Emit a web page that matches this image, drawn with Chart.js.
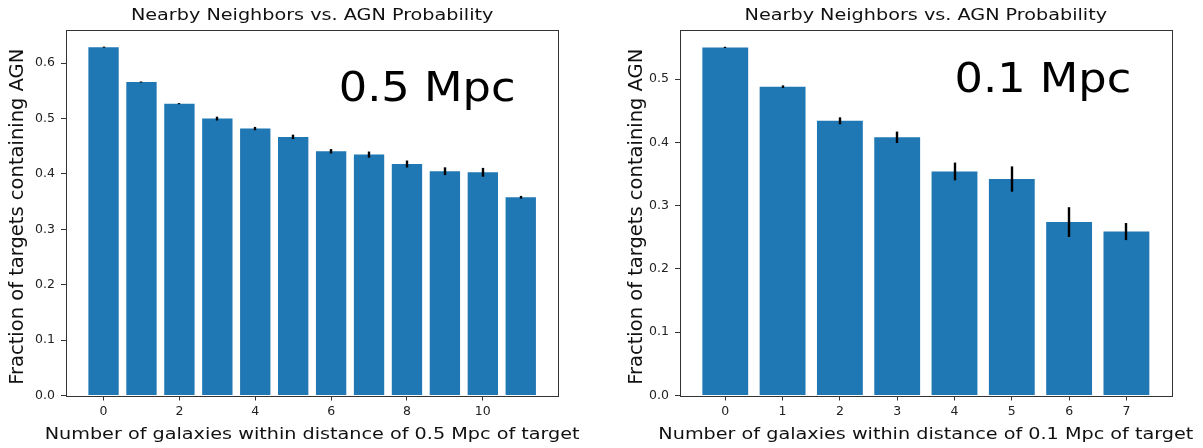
<!DOCTYPE html>
<html>
<head>
<meta charset="utf-8">
<script src="https://cdn.jsdelivr.net/npm/chart.js@4.4.1/dist/chart.umd.min.js"></script>
<style>
  body { margin: 0; background: #fff; }
  canvas { position: absolute; top: 0; }
  #left { left: 0; }
  #right { left: 600px; }
</style>
</head>
<body>
<canvas id="left" width="600" height="448"></canvas>
<canvas id="right" width="603" height="448"></canvas>
<script>
// --- data ---
const titleText = 'Nearby Neighbors vs. AGN Probability';
const yTitle = 'Fraction of targets containing AGN';

// 0.5 Mpc panel
const leftCounts = [0, 1, 2, 3, 4, 5, 6, 7, 8, 9, 10, 11];
const leftFrac = [0.629, 0.566, 0.527, 0.500, 0.482, 0.467, 0.441, 0.435, 0.418, 0.405, 0.403, 0.358];
const leftErr = [0.001, 0.001, 0.001, 0.0035, 0.003, 0.004, 0.004, 0.0055, 0.0063, 0.007, 0.008, 0.0024];
const leftXTicks = [0, 2, 4, 6, 8, 10];
const leftYTicks = [0, 0.1, 0.2, 0.3, 0.4, 0.5, 0.6];
const leftXTitle = 'Number of galaxies within distance of 0.5 Mpc of target';
const leftNote = '0.5 Mpc';

// 0.1 Mpc panel
const rightCounts = [0, 1, 2, 3, 4, 5, 6, 7];
const rightFrac = [0.550, 0.488, 0.434, 0.408, 0.354, 0.342, 0.274, 0.259];
const rightErr = [0.001, 0.002, 0.0055, 0.009, 0.014, 0.020, 0.0235, 0.0135];
const rightXTicks = [0, 1, 2, 3, 4, 5, 6, 7];
const rightYTicks = [0, 0.1, 0.2, 0.3, 0.4, 0.5];
const rightXTitle = 'Number of galaxies within distance of 0.1 Mpc of target';
const rightNote = '0.1 Mpc';

const FONT = "'DejaVu Sans', sans-serif";
const BAR = '#1f77b4';
const AXIS = '#333333';

// the picture is a bit wider than it is tall, text included
function wideText(ctx, text, x, y, size, align, sx) {
    ctx.save();
    ctx.font = size + 'px ' + FONT;
    ctx.textAlign = align;
    ctx.textBaseline = 'alphabetic';
    ctx.translate(x, y);
    ctx.scale(sx, 1);
    ctx.fillText(text, 0, 0);
    ctx.restore();
}

// error bars, box frame, titles and the big text note
const extras = {
    id: 'extras',
    afterDatasetsDraw(chart, args, opts) {
        const ctx = chart.ctx;
        const xs = chart.scales.x, ys = chart.scales.y;
        const a = chart.chartArea;
        const midX = (a.left + a.right) / 2;
        ctx.save();
        ctx.strokeStyle = '#000';
        ctx.lineWidth = 2.4;
        opts.counts.forEach((c, i) => {
            const px = Math.round(xs.getPixelForValue(c));
            ctx.beginPath();
            ctx.moveTo(px, ys.getPixelForValue(opts.frac[i] - opts.err[i]));
            ctx.lineTo(px, ys.getPixelForValue(opts.frac[i] + opts.err[i]));
            ctx.stroke();
        });
        // frame
        ctx.strokeStyle = AXIS;
        ctx.lineWidth = 1;
        ctx.strokeRect(Math.round(a.left) + 0.5, Math.round(a.top) + 0.5,
            Math.round(a.right - a.left), Math.round(a.bottom - a.top));
        ctx.fillStyle = '#111';
        wideText(ctx, titleText, midX, 20, 16, 'center', 1.2);
        wideText(ctx, opts.xTitle, midX, 439, 16, 'center', 1.2);
        // y title, vertical
        ctx.save();
        ctx.font = '19.5px ' + FONT;
        ctx.textAlign = 'center';
        ctx.textBaseline = 'alphabetic';
        ctx.translate(opts.yTitleX, (a.top + a.bottom) / 2 + 4);
        ctx.rotate(-Math.PI / 2);
        ctx.fillText(yTitle, 0, 0);
        ctx.restore();
        // note
        ctx.fillStyle = '#000';
        wideText(ctx, opts.note, xs.getPixelForValue(opts.noteAt[0]), ys.getPixelForValue(opts.noteAt[1]), 41, 'left', 1.09);
        ctx.restore();
    }
};

function makeChart(id, p) {
    const axisGrid = { display: true, offset: false, drawOnChartArea: false, drawTicks: true, tickLength: 5, color: AXIS };
    return new Chart(document.getElementById(id), {
        type: 'bar',
        data: {
            datasets: [{
                data: p.counts.map((c, i) => ({ x: c, y: p.frac[i] })),
                backgroundColor: BAR,
                borderWidth: 0,
                categoryPercentage: 1,
                barPercentage: 0.8
            }]
        },
        options: {
            responsive: false,
            animation: false,
            devicePixelRatio: 1,
            layout: { padding: { left: 0, right: p.padRight, top: 30, bottom: 0 } },
            plugins: {
                legend: { display: false },
                tooltip: { enabled: false },
                title: { display: false },
                extras: {
                    counts: p.counts, frac: p.frac, err: p.err, note: p.note, noteAt: p.noteAt,
                    xTitle: p.xTitle, yTitleX: p.yTitleX
                }
            },
            scales: {
                x: {
                    type: 'linear',
                    min: p.xMin, max: p.xMax,
                    offset: false,
                    afterBuildTicks: s => { s.ticks = p.xTicks.map(v => ({ value: v })); },
                    afterFit: s => { s.height = 52.5; },
                    grid: axisGrid,
                    border: { display: false },
                    ticks: { color: '#222', font: { family: FONT, size: 12.5 }, padding: 4, maxRotation: 0, autoSkip: false }
                },
                y: {
                    min: 0, max: p.yMax,
                    afterBuildTicks: s => { s.ticks = p.yTicks.map(v => ({ value: v })); },
                    afterFit: s => { s.width = p.yWidth; },
                    grid: axisGrid,
                    border: { display: false },
                    ticks: { color: '#222', font: { family: FONT, size: 12.5 }, padding: 6, callback: v => v.toFixed(1) }
                }
            }
        },
        plugins: [extras]
    });
}

makeChart('left', {
    counts: leftCounts, frac: leftFrac, err: leftErr,
    xTicks: leftXTicks, yTicks: leftYTicks, xTitle: leftXTitle,
    note: leftNote, noteAt: [6.2, 0.531],
    xMin: -0.99, xMax: 11.99, yMax: 0.66,
    yWidth: 66, yTitleX: 23.3, padRight: 41.7
});

makeChart('right', {
    counts: rightCounts, frac: rightFrac, err: rightErr,
    xTicks: rightXTicks, yTicks: rightYTicks, xTitle: rightXTitle,
    note: rightNote, noteAt: [4.0, 0.479],
    xMin: -0.79, xMax: 7.79, yMax: 0.5775,
    yWidth: 80, yTitleX: 41.7, padRight: 31.3
});
</script>
</body>
</html>
